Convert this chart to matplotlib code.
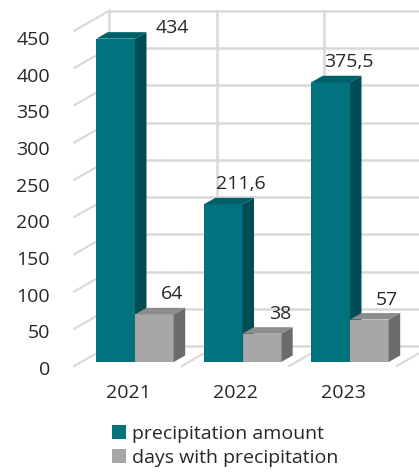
import matplotlib
matplotlib.use("Agg")
import numpy as np
from matplotlib import pyplot as plt
from matplotlib.patches import Polygon, Rectangle, Patch

plt.rcParams['font.family'] = ['Open Sans', 'DejaVu Sans']

# data
years = ['2021', '2022', '2023']
precip_amount = [434, 211.6, 375.5]
precip_days = [64, 38, 57]
amount_labels = ['434', '211,6', '375,5']
days_labels = ['64', '38', '57']
y_ticks = [0, 50, 100, 150, 200, 250, 300, 350, 400, 450]

# colours for front / side / top faces
teal = ('#01727E', '#014C55', '#015F69')
grey = ('#A6A6A6', '#6B6B6B', '#8C8C8C')
text_col = '#262626'
grid_col = '#D9D9D9'

# layout in pixels
W, H = 419, 472
X0_PX = 135.0      # first category centre
CAT_PX = 107.5     # pixels per category
FLOOR_PX = 362.0   # value 0 on the bar plane (from top)
VAL_PX = 0.745     # pixels per unit
YMAX = 450
FS = 14

fig = plt.figure(figsize=(W / 100, H / 100), dpi=100)
ax = fig.add_axes([0, 0, 1, 1])
ax.set_xlim(-X0_PX / CAT_PX, (W - X0_PX) / CAT_PX)
ax.set_ylim(-(H - FLOOR_PX) / VAL_PX, FLOOR_PX / VAL_PX)
ax.axis('off')


def px(dx, dy):
    # pixel offset (right, up) -> data offset
    return dx / CAT_PX, dy / VAL_PX


bx, by = px(28, 16)      # back wall
fx, fy = px(-7, -4)      # front edge of floor / side wall
dx, dy = px(11.5, 6.5)   # bar depth
n = len(years)
x_edges = np.arange(n + 1) - 0.5
xr = ax.get_xlim()[1]

# back wall grid
for v in y_ticks:
    ax.plot([x_edges[0] + bx, xr], [v + by, v + by], color=grid_col, lw=1.8,
            solid_capstyle='butt', zorder=1)
for xe in x_edges:
    ax.plot([xe + bx, xe + bx], [by, YMAX + by], color=grid_col, lw=1.8, zorder=1)

# side wall grid
for v in y_ticks:
    ax.plot([x_edges[0] + fx, x_edges[0] + bx], [v + fy, v + by],
            color='#D8D8D8', lw=1.5, zorder=1)
# floor grid
for xe in x_edges[1:]:
    ax.plot([xe + fx, xe + bx], [fy, by], color='#D8D8D8', lw=1.5, zorder=1)


def bar3d(x0, x1, v, cols, z):
    front, side, top = cols
    ax.add_patch(Rectangle((x0, 0), x1 - x0, v, fc=front, ec='none', zorder=z))
    ax.add_patch(Polygon([(x1, 0), (x1 + dx, dy), (x1 + dx, v + dy), (x1, v)],
                         fc=side, ec='none', zorder=z))
    ax.add_patch(Polygon([(x0, v), (x1, v), (x1 + dx, v + dy), (x0 + dx, v + dy)],
                         fc=top, ec='none', zorder=z))


def value_label(x0, x1, v, s):
    lx = (x0 + x1) / 2 + px(18, 0)[0]
    ly = v + px(0, 20)[1]
    top_lim = YMAX - 2
    if ly > top_lim:
        # no room above the bar: put it beside the bar
        ax.text(x1 + dx + px(9, 0)[0], top_lim, s, ha='left', va='center',
                fontsize=FS, color=text_col, zorder=10)
    else:
        ax.text(lx, ly, s, ha='center', va='center', fontsize=FS,
                color=text_col, zorder=10)


bw = 0.36
for i in range(n):
    bar3d(i - bw, i, precip_amount[i], teal, 3 + 2 * i)
    bar3d(i, i + bw, precip_days[i], grey, 4 + 2 * i)
    value_label(i - bw, i, precip_amount[i], amount_labels[i])
    value_label(i, i + bw, precip_days[i], days_labels[i])

# value axis labels on the front edge of the side wall
for v in y_ticks:
    ax.text((50 - X0_PX) / CAT_PX, 0.984 * v - 10.7, str(v), ha='right',
            va='center', fontsize=FS, color=text_col)

# category labels
for i, yr in enumerate(years):
    ax.text(i + fx, -41, yr, ha='center', va='center', fontsize=FS,
            color=text_col)

handles = [Patch(fc=teal[0], ec='none', label='precipitation amount'),
           Patch(fc=grey[0], ec='none', label='days with precipitation')]
fig.legend(handles=handles, loc='upper left', bbox_to_anchor=(112 / W, 1 - 425 / H),
           frameon=False, fontsize=14, handlelength=0.72, handleheight=0.72,
           handletextpad=0.3, labelspacing=0.3, borderpad=0, borderaxespad=0,
           labelcolor=text_col)

fig.savefig('out.png', dpi=100)
